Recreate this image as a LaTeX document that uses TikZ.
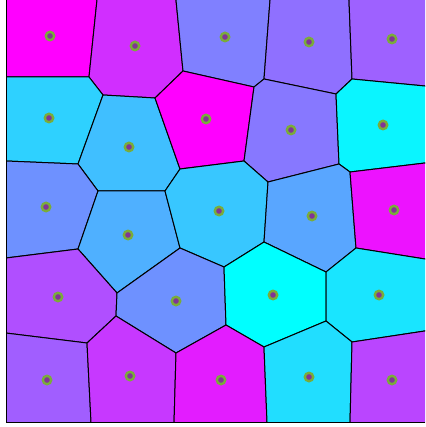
\documentclass[tikz,border=0pt]{standalone}
\definecolor{sitering}{RGB}{122,172,58}
\definecolor{sitedot}{RGB}{128,52,150}
\definecolor{coolhi}{rgb}{1,0,1}
\definecolor{coollo}{rgb}{0,1,1}

\begin{document}
\begin{tikzpicture}[x=1pt,y=-1pt,line width=1pt,
  cell/.style={fill=coolhi!#1!coollo,draw=black,line join=round}]
\useasboundingbox (0,0) rectangle (425,427);
\begin{scope}
\clip (6,0) rectangle (425,422);
% top row
\filldraw[cell=100] (0,-5) -- (97.5,-5) -- (89,77) -- (0,77) -- cycle;
\filldraw[cell=82] (97.5,-5) -- (175.5,-5) -- (183,71) -- (155,98) -- (103,95) -- (89,77) -- cycle;
\filldraw[cell=50] (175.5,-5) -- (270.4,-5) -- (264,79) -- (254,87) -- (183,71) -- cycle;
\filldraw[cell=56] (270.4,-5) -- (348.8,-5) -- (352,79) -- (336,94) -- (264,79) -- cycle;
\filldraw[cell=62] (348.8,-5) -- (430,-5) -- (430,86.5) -- (352,79) -- cycle;
% second row
\filldraw[cell=18] (0,77) -- (89,77) -- (103,95) -- (78,164) -- (0,160.75) -- cycle;
\filldraw[cell=25] (103,95) -- (155,98) -- (180,169) -- (165,191) -- (98,191) -- (78,164) -- cycle;
\filldraw[cell=100] (155,98) -- (183,71) -- (254,87) -- (244,161) -- (180,169) -- cycle;
\filldraw[cell=53] (254,87) -- (264,79) -- (336,94) -- (339,164) -- (268,182) -- (244,161) -- cycle;
\filldraw[cell=4] (352,79) -- (430,86.5) -- (430,162.4) -- (350,172) -- (339,164) -- (336,94) -- cycle;
% third row
\filldraw[cell=43] (0,160.75) -- (78,164) -- (98,191) -- (78,249) -- (0,258.75) -- cycle;
\filldraw[cell=31] (98,191) -- (165,191) -- (180,248) -- (117,293) -- (78,249) -- cycle;
\filldraw[cell=22] (180,169) -- (244,161) -- (268,182) -- (264,242) -- (224,267) -- (180,248) -- (165,191) -- cycle;
\filldraw[cell=35] (268,182) -- (339,164) -- (350,172) -- (356,248) -- (326,272) -- (264,242) -- cycle;
\filldraw[cell=93] (350,172) -- (430,162.4) -- (430,259.8) -- (356,248) -- cycle;
% fourth row
\filldraw[cell=69] (0,258.75) -- (78,249) -- (117,293) -- (116,316) -- (87,343) -- (0,332.3) -- cycle;
\filldraw[cell=43] (117,293) -- (180,248) -- (224,267) -- (226,325) -- (176,353) -- (116,316) -- cycle;
\filldraw[cell=0] (224,267) -- (264,242) -- (326,272) -- (326,321) -- (264,347) -- (226,325) -- cycle;
\filldraw[cell=10] (326,272) -- (356,248) -- (430,259.8) -- (430,330.2) -- (352,342) -- (326,321) -- cycle;
% bottom row
\filldraw[cell=63] (0,332.3) -- (87,343) -- (91.25,427) -- (0,427) -- cycle;
\filldraw[cell=78] (87,343) -- (116,316) -- (176,353) -- (173.9,427) -- (91.25,427) -- cycle;
\filldraw[cell=89] (176,353) -- (226,325) -- (264,347) -- (267.2,427) -- (173.9,427) -- cycle;
\filldraw[cell=13] (264,347) -- (326,321) -- (352,342) -- (349.9,427) -- (267.2,427) -- cycle;
\filldraw[cell=73] (352,342) -- (430,330.2) -- (430,427) -- (349.9,427) -- cycle;
\end{scope}
\draw (6,0) -- (6,422) -- (425,422);
% sites
\foreach \x/\y in {50/36,135/46,225/37,309/42,392/39,
                   49/118,129/147,206/119,291/130,383/125,
                   46/207,128/235,219/211,312/216,394/210,
                   58/297,176/301,273/295,379/295,
                   47/380,130/376,221/380,309/377,392/380}{
  \fill[sitering] (\x,\y) circle (5.5pt);
  \fill[sitedot] (\x,\y) circle (2.8pt);
}
\end{tikzpicture}
\end{document}
